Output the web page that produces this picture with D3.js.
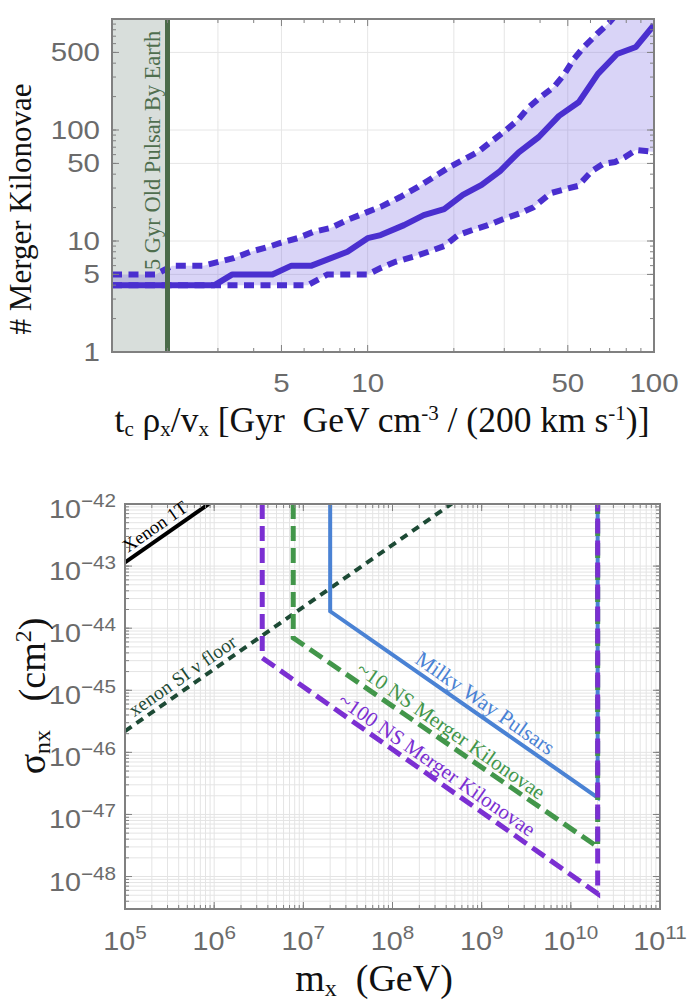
<!DOCTYPE html>
<html><head><meta charset="utf-8">
<script src="https://cdn.jsdelivr.net/npm/d3@7/dist/d3.min.js"></script>
<style>html,body{margin:0;padding:0;background:#fff}svg{display:block}text{white-space:pre}</style>
</head><body>
<svg id="chart" width="688" height="1000"></svg>
<script>
// ================= Panel 1 data =================
const medianX = [1.28, 2.92, 3.37, 4.65, 5.42, 6.37, 8.5, 10, 11.1, 13.4, 15.7, 18.5, 21.5, 25, 29, 33.7, 39.6, 46.6, 54.7, 63.7, 74.3, 86.5, 100];
const medianY = [4, 4, 5, 5, 6, 6, 8, 10.6, 11.3, 13.9, 17.1, 19.4, 26, 32, 42.7, 63, 86.5, 134, 179, 320, 484, 560, 883];
const upperX = [1.28, 1.82, 2.08, 2.67, 3.40, 3.90, 4.47, 4.96, 5.69, 6.47, 7.43, 8.51, 10, 11.1, 13.0, 15.0, 17.0, 19.1, 21.2, 24.3, 26.9, 29.9, 33.5, 36.3, 40.2, 44.7, 48.4, 52.5, 56.9, 63.2, 69.6, 80, 100];
const upperY = [5, 5, 6, 6, 7, 8, 8.8, 9.6, 10.6, 12.1, 13.1, 15.5, 18.3, 20.3, 24.9, 30.7, 37.7, 45.5, 52.6, 63.4, 78, 96, 123, 158, 198, 244, 313, 436, 560, 733, 920, 1400, 2500];
const lowerX = [1.28, 6.17, 7.24, 10, 11.1, 12.5, 14.4, 16.3, 18.5, 20.7, 23.3, 26.3, 30.4, 34.3, 38.0, 43.6, 49.2, 54.2, 60.7, 66.3, 73.1, 79.2, 86.5, 100];
const lowerY = [4, 4, 5, 5, 5.7, 6.5, 7.2, 8.0, 9.0, 11.3, 12.6, 13.9, 16.1, 17.9, 20.2, 27, 29.4, 31.3, 42.7, 49.4, 51.5, 57, 66, 63.4];
const pulsarAge = [2];
const topXTickLabels = [5, 10, 50, 100];
const topYTickLabels = [1, 5, 10, 50, 100, 500];
const topXGrid = [2, 3, 5, 10, 20, 30, 50];
const topYGrid = [5, 10, 50, 100, 500];

// ================= Panel 2 data =================
const botXTickExp = [5, 6, 7, 8, 9, 10, 11];
const botYTickExp = [-42, -43, -44, -45, -46, -47, -48];
const xenon1T_m = [1e5, 1e6];
const xenon1T_s = [1.15e-43, 1.15e-42];
const nuFloor_m = [1e5, 1e9];
const nuFloor_s = [2.2e-46, 2.2e-42];
const pulsars_m = [2e7, 2e7, 2e10, 2e10];
const pulsars_s = [1e-42, 1.87e-44, 1.87e-47, 1e-42];
const kilo10_m = [7.7e6, 7.7e6, 2e10, 2e10];
const kilo10_s = [1e-42, 6.98e-45, 3.0e-48, 1e-42];
const kilo100_m = [3.46e6, 3.46e6, 2e10, 2e10];
const kilo100_s = [1e-42, 3.33e-45, 5.3e-49, 1e-42];

// ================= drawing =================
const svg = d3.select('#chart');
const SANS = "'Liberation Sans', Arial, sans-serif";
const SERIF = "'Liberation Serif', 'Times New Roman', serif";
const tickLabCol = '#6b6b6b';
const frameCol = '#808080';

function zip(xs, ys) { return xs.map((x, i) => [x, ys[i]]); }
function minorList(d0, d1) { const out = []; for (let e = d0; e < d1; e++) for (let k = 1; k <= 9; k++) out.push(k * Math.pow(10, e)); out.push(Math.pow(10, d1)); return out; }

function ticks(g, x, y, xv, yv, len, col) {
  const [x0, x1] = x.range(); const [y0, y1] = y.range();
  xv.forEach(v => {
    const px = x(v);
    g.append('line').attr('x1', px).attr('x2', px).attr('y1', y0).attr('y2', y0 - len).attr('stroke', col).attr('stroke-width', 1);
    g.append('line').attr('x1', px).attr('x2', px).attr('y1', y1).attr('y2', y1 + len).attr('stroke', col).attr('stroke-width', 1);
  });
  yv.forEach(v => {
    const py = y(v);
    g.append('line').attr('y1', py).attr('y2', py).attr('x1', x0).attr('x2', x0 + len).attr('stroke', col).attr('stroke-width', 1);
    g.append('line').attr('y1', py).attr('y2', py).attr('x1', x1).attr('x2', x1 - len).attr('stroke', col).attr('stroke-width', 1);
  });
}

// ---------- Panel 1 ----------
const tx = d3.scaleLog().domain([1.28, 100]).range([112, 654]);
const ty = d3.scaleLog().domain([1, 1000]).range([352, 19]);
const g1 = svg.append('g');
g1.append('clipPath').attr('id', 'clip1').append('rect')
  .attr('x', 112).attr('y', 19).attr('width', 542).attr('height', 333);

topXGrid.forEach(v => g1.append('line').attr('x1', tx(v)).attr('x2', tx(v)).attr('y1', 19).attr('y2', 352).attr('stroke', '#e6e6e6'));
topYGrid.forEach(v => g1.append('line').attr('y1', ty(v)).attr('y2', ty(v)).attr('x1', 112).attr('x2', 654).attr('stroke', '#e6e6e6'));

const p1 = g1.append('g').attr('clip-path', 'url(#clip1)');
p1.append('rect').attr('x', tx(1.28)).attr('y', 19).attr('width', tx(pulsarAge[0]) - tx(1.28)).attr('height', 333).attr('fill', '#d8dedb');

const line1 = d3.line().x(d => tx(d[0])).y(d => ty(d[1]));
const upPts = zip(upperX, upperY), loPts = zip(lowerX, lowerY);
p1.append('path').attr('d', line1(upPts.concat(loPts.slice().reverse())) + 'Z')
  .attr('fill', 'rgba(105,85,222,0.25)').attr('stroke', 'none');
const lineCol = '#4a2fcf';
p1.append('path').attr('d', line1(upPts)).attr('fill', 'none').attr('stroke', lineCol).attr('stroke-width', 6).attr('stroke-dasharray', '10,6.5');
p1.append('path').attr('d', line1(loPts)).attr('fill', 'none').attr('stroke', lineCol).attr('stroke-width', 6).attr('stroke-dasharray', '10,6.5');
p1.append('path').attr('d', line1(zip(medianX, medianY))).attr('fill', 'none').attr('stroke', lineCol).attr('stroke-width', 6).attr('stroke-linejoin', 'round');

p1.append('line').attr('x1', tx(pulsarAge[0])).attr('x2', tx(pulsarAge[0])).attr('y1', 19).attr('y2', 352)
  .attr('stroke', '#4b6b4a').attr('stroke-width', 5);
g1.append('text').attr('transform', `translate(${tx(pulsarAge[0]) - 8},270) rotate(-90)`)
  .attr('font-family', SERIF).attr('font-size', 22.5).attr('fill', '#4f6e4e').text('5 Gyr Old Pulsar By Earth');

ticks(g1, tx, ty, [5, 10, 50, 100], topYTickLabels.concat([1000]), 7, frameCol);
ticks(g1, tx, ty, [2, 3, 4, 6, 7, 8, 9, 20, 30, 40, 60, 70, 80, 90], minorList(0, 3), 4, frameCol);
g1.append('rect').attr('x', 112).attr('y', 19).attr('width', 542).attr('height', 333).attr('fill', 'none').attr('stroke', frameCol).attr('stroke-width', 2);

topYTickLabels.forEach(v => {
  g1.append('text').attr('transform', `translate(100,${ty(v) + 9}) scale(1.18,1)`).attr('text-anchor', 'end')
    .attr('font-family', SANS).attr('font-size', 25).attr('fill', tickLabCol).text(v);
});
topXTickLabels.forEach(v => {
  g1.append('text').attr('transform', `translate(${tx(v)},392) scale(1.18,1)`).attr('text-anchor', 'middle')
    .attr('font-family', SANS).attr('font-size', 25).attr('fill', tickLabCol).text(v);
});

g1.append('text').attr('transform', 'translate(31,209) rotate(-90)').attr('text-anchor', 'middle')
  .attr('font-family', SERIF).attr('font-size', 31).attr('fill', '#111').text('# Merger Kilonovae');
{
  const F = 35.5, f = 21;
  const t = g1.append('text').attr('x', 382).attr('y', 432).attr('text-anchor', 'middle')
    .attr('font-family', SERIF).attr('font-size', F).attr('fill', '#111');
  const parts = [['t', 0, F], ['c', 4, f], [' ρ', -4, F], ['x', 4, f], ['/v', -4, F], ['x', 4, f],
    [' [Gyr  GeV cm', -4, F], ['-3', -12, f], [' / (200 km s', 12, F], ['-1', -12, f], [')]', 12, F]];
  parts.forEach(p => t.append('tspan').attr('dy', p[1]).attr('font-size', p[2]).text(p[0]));
}

// ---------- Panel 2 ----------
const bx = d3.scaleLog().domain([1e5, 1e11]).range([125, 660]);
const by = d3.scaleLog().domain([3e-49, 1e-42]).range([909, 504]);
const g2 = svg.append('g');
g2.append('clipPath').attr('id', 'clip2').append('rect')
  .attr('x', 125).attr('y', 504).attr('width', 535).attr('height', 405);

const bxMinor = minorList(5, 11), byMinor = minorList(-49, -42).filter(v => v >= 3e-49);
bxMinor.forEach(v => g2.append('line').attr('x1', bx(v)).attr('x2', bx(v)).attr('y1', 504).attr('y2', 909).attr('stroke', '#e4e4e4'));
byMinor.forEach(v => g2.append('line').attr('y1', by(v)).attr('y2', by(v)).attr('x1', 125).attr('x2', 660).attr('stroke', '#e4e4e4'));

const p2 = g2.append('g').attr('clip-path', 'url(#clip2)');
const line2 = d3.line().x(d => bx(d[0])).y(d => by(d[1]));
p2.append('path').attr('d', line2(zip(xenon1T_m, xenon1T_s))).attr('fill', 'none').attr('stroke', '#000').attr('stroke-width', 4);
p2.append('path').attr('d', line2(zip(nuFloor_m, nuFloor_s))).attr('fill', 'none').attr('stroke', '#1d4a35').attr('stroke-width', 4).attr('stroke-dasharray', '8,6');
p2.append('path').attr('d', line2(zip(pulsars_m, pulsars_s))).attr('fill', 'none').attr('stroke', '#4a82d4').attr('stroke-width', 4);
p2.append('path').attr('d', line2(zip(kilo10_m, kilo10_s))).attr('fill', 'none').attr('stroke', '#42964a').attr('stroke-width', 5).attr('stroke-dasharray', '15,7');
p2.append('path').attr('d', line2(zip(kilo100_m, kilo100_s))).attr('fill', 'none').attr('stroke', '#7b2fd2').attr('stroke-width', 5).attr('stroke-dasharray', '15,7');

ticks(g2, bx, by, botXTickExp.map(e => Math.pow(10, e)), botYTickExp.map(e => Math.pow(10, e)), 7, frameCol);
ticks(g2, bx, by, bxMinor, byMinor, 4, frameCol);
g2.append('rect').attr('x', 125).attr('y', 504).attr('width', 535).attr('height', 405).attr('fill', 'none').attr('stroke', frameCol).attr('stroke-width', 2);

function sci(g, x, y, e, anchor) {
  const t = g.append('text').attr('transform', `translate(${x},${y}) scale(1.15,1)`).attr('text-anchor', anchor)
    .attr('font-family', SANS).attr('font-size', 25).attr('fill', tickLabCol);
  t.append('tspan').text('10');
  t.append('tspan').attr('dy', -11).attr('font-size', 18).text(e < 0 ? '\u2212' + (-e) : String(e));
}
botYTickExp.forEach(e => sci(g2, 116, by(Math.pow(10, e)) + 14, e, 'end'));
botXTickExp.forEach(e => sci(g2, bx(Math.pow(10, e)), 950, e, 'middle'));

const ang = Math.atan((by(1e-45) - by(1e-44)) / (bx(1e8) - bx(1e7))) * 180 / Math.PI;
function curveLabel(text, m, s, angle, col, size) {
  g2.append('text').attr('transform', `translate(${bx(m)},${by(s)}) rotate(${angle})`).attr('dy', -6)
    .attr('text-anchor', 'middle').attr('font-family', SERIF).attr('font-size', size).attr('fill', col).text(text);
}
curveLabel('Xenon 1T', 2.6e5, 2.99e-43, -ang, '#000', 18.5);
curveLabel('xenon SI \u03bd floor', 5.3e5, 1.17e-45, -ang, '#1d4a35', 19.5);
curveLabel('Milky Way Pulsars', 9.0e8, 4.16e-46, ang, '#4a82d4', 21.5);
curveLabel('~10 NS Merger Kilonovae', 3.75e8, 1.51e-46, ang, '#42964a', 21);
curveLabel('~100 NS Merger Kilonovae', 2.6e8, 4.26e-47, ang, '#7b2fd2', 21);

{
  const F = 38, f = 24;
  const t = g2.append('text').attr('transform', 'translate(45,696) rotate(-90)').attr('text-anchor', 'middle')
    .attr('font-family', SERIF).attr('font-size', F).attr('fill', '#111');
  [['σ', 0, F], ['nx', 5, f], ['   (cm', -5, F], ['2', -14, f], [')', 14, F]]
    .forEach(p => t.append('tspan').attr('dy', p[1]).attr('font-size', p[2]).text(p[0]));
}
{
  const F = 38, f = 24;
  const t = g2.append('text').attr('x', 374).attr('y', 991).attr('text-anchor', 'middle')
    .attr('font-family', SERIF).attr('font-size', F).attr('fill', '#111');
  [['m', 0, F], ['x', 5, f], ['  (GeV)', -5, F]]
    .forEach(p => t.append('tspan').attr('dy', p[1]).attr('font-size', p[2]).text(p[0]));
}
</script>
</body></html>
